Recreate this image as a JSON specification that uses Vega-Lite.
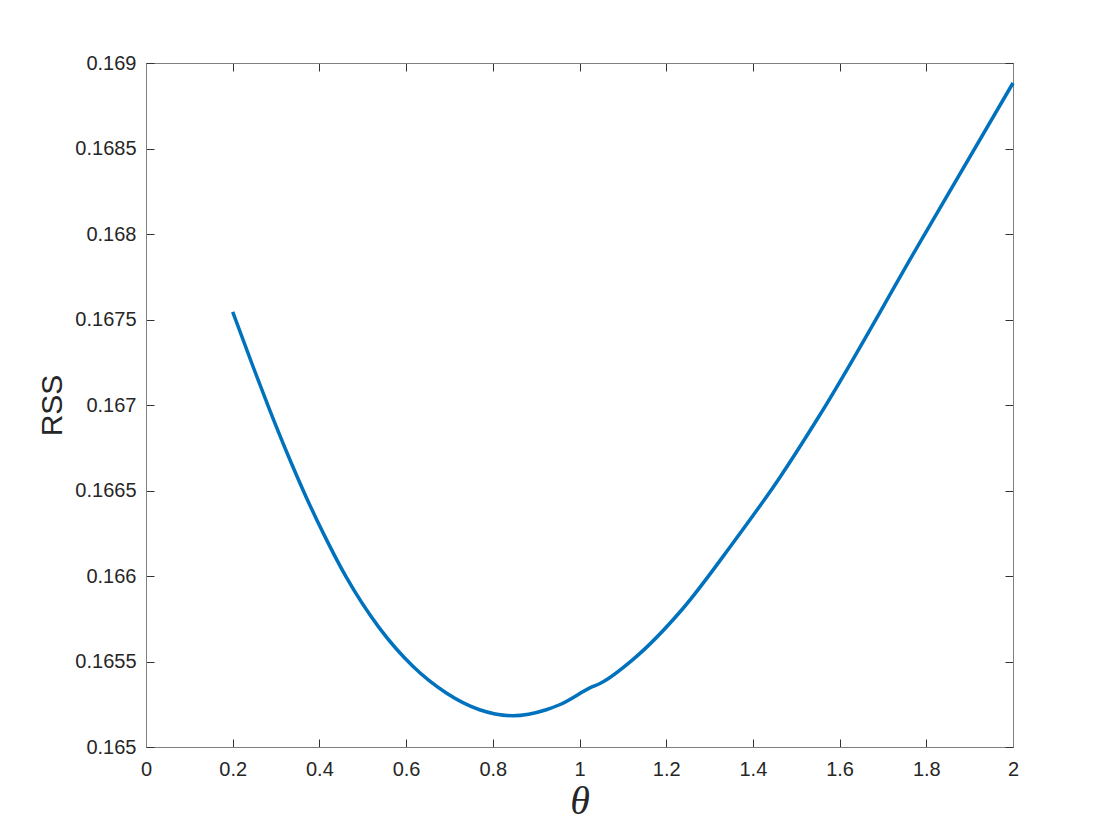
{
  "$schema": "https://vega.github.io/schema/vega-lite/v6.json",
  "autosize": "none",
  "width": 867,
  "height": 684,
  "padding": {"left": 146, "top": 63, "right": 107, "bottom": 93},
  "background": "white",
  "config": {
    "view": {"stroke": "#808080", "strokeWidth": 1},
    "axis": {
      "grid": false,
      "domainColor": "#808080",
      "tickColor": "#333333",
      "tickSize": -8,
      "labelFlush": false,
      "labelOverlap": false,
      "labelFont": "Liberation Sans",
      "labelFontSize": 20,
      "labelColor": "#262626",
      "titleColor": "#262626"
    }
  },
  "data": {
    "values": [
      {"theta": 0.2, "rss": 0.167545},
      {"theta": 0.2464, "rss": 0.167228},
      {"theta": 0.285, "rss": 0.166973},
      {"theta": 0.3235, "rss": 0.166731},
      {"theta": 0.3696, "rss": 0.166461},
      {"theta": 0.408, "rss": 0.166255},
      {"theta": 0.462, "rss": 0.165993},
      {"theta": 0.5386, "rss": 0.165695},
      {"theta": 0.6156, "rss": 0.165472},
      {"theta": 0.6927, "rss": 0.165316},
      {"theta": 0.7695, "rss": 0.165218},
      {"theta": 0.8464, "rss": 0.165183},
      {"theta": 0.9234, "rss": 0.165218},
      {"theta": 0.954, "rss": 0.165247},
      {"theta": 1.031, "rss": 0.165354},
      {"theta": 1.046, "rss": 0.16537},
      {"theta": 1.123, "rss": 0.165511},
      {"theta": 1.2386, "rss": 0.16581},
      {"theta": 1.354, "rss": 0.166193},
      {"theta": 1.4617, "rss": 0.166575},
      {"theta": 1.554, "rss": 0.16694},
      {"theta": 1.785, "rss": 0.16795},
      {"theta": 2.0, "rss": 0.168883}
    ]
  },
  "layer": [
    {
      "mark": {"type": "line", "color": "#0072BD", "strokeWidth": 3.5, "interpolate": "monotone"},
      "encoding": {
        "x": {
          "field": "theta", "type": "quantitative",
          "scale": {"domain": [0, 2], "nice": false, "zero": false},
          "axis": {
            "orient": "bottom", "values": [0, 0.2, 0.4, 0.6, 0.8, 1, 1.2, 1.4, 1.6, 1.8, 2],
            "format": "~g", "labelPadding": 20,
            "title": "θ", "titleFont": "Liberation Serif", "titleFontStyle": "italic",
            "titleFontWeight": "normal", "titleFontSize": 40, "titlePadding": 2
          }
        },
        "y": {
          "field": "rss", "type": "quantitative",
          "scale": {"domain": [0.165, 0.169], "nice": false, "zero": false},
          "axis": {
            "orient": "left", "values": [0.165, 0.1655, 0.166, 0.1665, 0.167, 0.1675, 0.168, 0.1685, 0.169],
            "format": "~g", "labelPadding": 18,
            "title": "RSS", "titleFont": "Liberation Sans", "titleFontWeight": "normal",
            "titleFontSize": 30, "titlePadding": 7
          }
        }
      }
    },
    {
      "mark": {"type": "line", "strokeOpacity": 0},
      "encoding": {
        "x": {
          "field": "theta", "type": "quantitative",
          "axis": {"orient": "top", "values": [0, 0.2, 0.4, 0.6, 0.8, 1, 1.2, 1.4, 1.6, 1.8, 2], "labels": false, "title": null}
        },
        "y": {
          "field": "rss", "type": "quantitative",
          "axis": {"orient": "right", "values": [0.165, 0.1655, 0.166, 0.1665, 0.167, 0.1675, 0.168, 0.1685, 0.169], "labels": false, "title": null}
        }
      }
    }
  ],
  "resolve": {"axis": {"x": "independent", "y": "independent"}}
}
